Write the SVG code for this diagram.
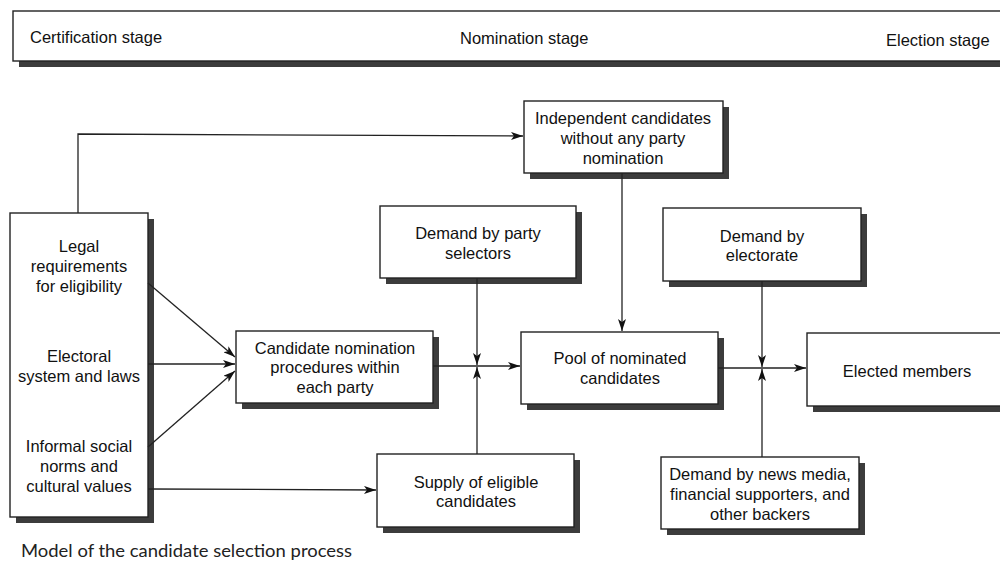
<svg xmlns="http://www.w3.org/2000/svg" width="1000" height="571" viewBox="0 0 1000 571">
<defs>
<marker id="ah" viewBox="0 0 12 8" refX="12" refY="4" markerWidth="12" markerHeight="8" markerUnits="userSpaceOnUse" orient="auto">
<path d="M0,0 L12,4 L0,8 L3,4 Z" fill="#111"/>
</marker>
</defs>
<style>
.box{fill:#fff;stroke:#222;stroke-width:1.4}
.sh{fill:#3c3c3c}
.t{font-family:"Liberation Sans",Arial,sans-serif;font-size:16.5px;fill:#111;text-anchor:middle}
.h{font-family:"Liberation Sans",Arial,sans-serif;font-size:16.5px;fill:#111}
.ln{fill:none;stroke:#222;stroke-width:1.3}
.cap{font-family:Lato,"DejaVu Sans",sans-serif;font-size:16.5px;fill:#222}
</style>
<rect width="1000" height="571" fill="#fff"/>

<g id="banner">
<rect class="sh" x="19" y="61" width="990" height="6"/>
<rect class="box" x="13" y="11" width="1000" height="50"/>
<text class="h" x="30" y="43">Certification stage</text>
<text class="h" x="460" y="44">Nomination stage</text>
<text class="h" x="886" y="46">Election stage</text>
</g>

<g id="factors">
<rect class="sh" x="16" y="219" width="138" height="304"/>
<rect class="box" x="10" y="213" width="138" height="304"/>
<text class="t" x="79" y="252">Legal</text>
<text class="t" x="79" y="272">requirements</text>
<text class="t" x="79" y="292">for eligibility</text>
<text class="t" x="79" y="362">Electoral</text>
<text class="t" x="79" y="382">system and laws</text>
<text class="t" x="79" y="452">Informal social</text>
<text class="t" x="79" y="472">norms and</text>
<text class="t" x="79" y="492">cultural values</text>
</g>

<g id="independent">
<rect class="sh" x="530" y="107" width="199" height="72"/>
<rect class="box" x="524" y="101" width="199" height="72"/>
<text class="t" x="623" y="124">Independent candidates</text>
<text class="t" x="623" y="144">without any party</text>
<text class="t" x="623" y="164">nomination</text>
</g>

<g id="party-selectors">
<rect class="sh" x="386" y="212" width="196" height="72"/>
<rect class="box" x="380" y="206" width="196" height="72"/>
<text class="t" x="478" y="239">Demand by party</text>
<text class="t" x="478" y="259">selectors</text>
</g>

<g id="electorate">
<rect class="sh" x="669" y="214" width="198" height="73"/>
<rect class="box" x="663" y="208" width="198" height="73"/>
<text class="t" x="762" y="242">Demand by</text>
<text class="t" x="762" y="261">electorate</text>
</g>

<g id="nomination">
<rect class="sh" x="242" y="337" width="197" height="72"/>
<rect class="box" x="236" y="331" width="197" height="72"/>
<text class="t" x="335" y="354">Candidate nomination</text>
<text class="t" x="335" y="373">procedures within</text>
<text class="t" x="335" y="393">each party</text>
</g>

<g id="pool">
<rect class="sh" x="527" y="338" width="197" height="72"/>
<rect class="box" x="521" y="332" width="197" height="72"/>
<text class="t" x="620" y="364">Pool of nominated</text>
<text class="t" x="620" y="384">candidates</text>
</g>

<g id="elected">
<rect class="sh" x="813" y="339" width="200" height="73"/>
<rect class="box" x="807" y="333" width="200" height="73"/>
<text class="t" x="907" y="377">Elected members</text>
</g>

<g id="supply">
<rect class="sh" x="383" y="460" width="197" height="73"/>
<rect class="box" x="377" y="454" width="197" height="73"/>
<text class="t" x="476" y="488">Supply of eligible</text>
<text class="t" x="476" y="507">candidates</text>
</g>

<g id="media">
<rect class="sh" x="667" y="463" width="198" height="72"/>
<rect class="box" x="661" y="457" width="198" height="72"/>
<text class="t" x="760" y="480">Demand by news media,</text>
<text class="t" x="760" y="500">financial supporters, and</text>
<text class="t" x="760" y="520">other backers</text>
</g>

<g id="connectors">
<path class="ln" d="M78,213 V134 L523,136" marker-end="url(#ah)"/>
<line class="ln" x1="148" y1="283" x2="235" y2="357" marker-end="url(#ah)"/>
<line class="ln" x1="148" y1="364" x2="235" y2="364" marker-end="url(#ah)"/>
<line class="ln" x1="148" y1="447" x2="235" y2="371" marker-end="url(#ah)"/>
<line class="ln" x1="148" y1="489" x2="376" y2="490" marker-end="url(#ah)"/>
<line class="ln" x1="622" y1="173" x2="622" y2="331" marker-end="url(#ah)"/>
<line class="ln" x1="433" y1="366" x2="520" y2="366" marker-end="url(#ah)"/>
<line class="ln" x1="477" y1="278" x2="477" y2="365" marker-end="url(#ah)"/>
<line class="ln" x1="477" y1="454" x2="477" y2="367" marker-end="url(#ah)"/>
<line class="ln" x1="718" y1="368" x2="806" y2="368" marker-end="url(#ah)"/>
<line class="ln" x1="762" y1="281" x2="762" y2="367" marker-end="url(#ah)"/>
<line class="ln" x1="762" y1="457" x2="762" y2="369" marker-end="url(#ah)"/>
</g>

<text class="cap" x="21" y="557" textLength="331" lengthAdjust="spacingAndGlyphs">Model of the candidate selection process</text>
</svg>
